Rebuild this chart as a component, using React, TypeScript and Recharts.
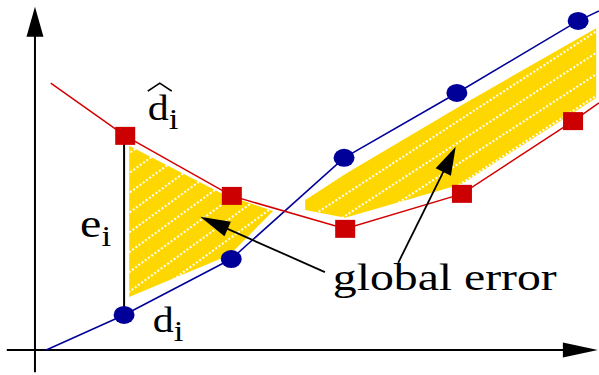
import { ComposedChart, Line, Area, XAxis, YAxis, ReferenceLine, ReferenceDot } from 'recharts'

// estimated curve d_i (blue) and its approximation d^_i (red), in plot units
const blueX = [0.2, 1.58, 3.48, 5.48, 7.48, 9.63, 10.0]
const blueY = [0, 1.02, 2.65, 5.6, 7.49, 9.59, 9.88]
const redX = [0.28, 1.6, 3.49, 5.5, 7.57, 9.54, 10.0]
const redY = [7.78, 6.24, 4.49, 3.53, 4.55, 6.67, 7.2]

// hatched "global error" bands: x, lower edge, upper edge
const leftX = [1.67, 3.32, 3.49, 4.22]
const leftLow = [1.54, 2.68, 2.83, 4.05]
const leftHigh = [5.95, 4.55, 4.46, 4.05]
const rightX = [4.79, 5.5, 7.57, 9.95]
const rightLow = [4.08, 3.85, 4.84, 7.34]
const rightHigh = [4.37, 5.13, 7.14, 9.38]

const blueData = blueX.map((x, i) => ({ x, y: blueY[i] }))
const redData = redX.map((x, i) => ({ x, y: redY[i] }))
const leftBand = leftX.map((x, i) => ({ x, range: [leftLow[i], leftHigh[i]] }))
const rightBand = rightX.map((x, i) => ({ x, range: [rightLow[i], rightHigh[i]] }))
const errData = [{ x: blueX[1], y: blueY[1] }, { x: blueX[1], y: redY[1] }]

const BLUE = '#000099'
const RED = '#d40000'
const SERIF = 'Liberation Serif, Times New Roman, serif'

const arrow = (len: number, half: number, width: number) => (p: any) => {
  const { x1, y1, x2, y2 } = p
  const dx = x2 - x1
  const dy = y2 - y1
  const d = Math.hypot(dx, dy) || 1
  const ux = dx / d
  const uy = dy / d
  const bx = x2 - ux * len
  const by = y2 - uy * len
  const pts = `${x2},${y2} ${bx - uy * half},${by + ux * half} ${bx + uy * half},${by - ux * half}`
  return (
    <g>
      <line x1={x1} y1={y1} x2={bx + ux * 2} y2={by + uy * 2} stroke="#000" strokeWidth={width} />
      <polygon points={pts} fill="#000" />
    </g>
  )
}

const sub = (main: string, idx: string, size: number, hat = false) => (p: any) => (
  <g transform={`translate(${p.cx},${p.cy}) scale(1.2,1)`}>
    {hat && <path d="M0,-29 L10,-37 L20,-29" fill="none" stroke="#000" strokeWidth={1.4} />}
    <text x={0} y={0} fontFamily={SERIF} fontSize={size} fill="#000">
      {main}
      <tspan dy={9} fontSize={29}>{idx}</tspan>
    </text>
  </g>
)

const globalLabel = (p: any) => (
  <text x={p.cx} y={p.cy} fontFamily={SERIF} fontSize={37} fill="#000" textLength={224} lengthAdjust="spacingAndGlyphs">
    global error
  </text>
)

const square = (p: any) =>
  p.index > 0 && p.index < redData.length - 1 ? (
    <rect key={`s${p.index}`} x={p.cx - 10} y={p.cy - 9} width={20} height={18} fill="#cc0000" />
  ) : (
    <g key={`s${p.index}`} />
  )

const circle = (p: any) =>
  p.index > 0 && p.index < blueData.length - 1 ? (
    <ellipse key={`c${p.index}`} cx={p.cx} cy={p.cy} rx={10.5} ry={9} fill={BLUE} />
  ) : (
    <g key={`c${p.index}`} />
  )

export default function App() {
  return (
    <div style={{ position: 'absolute', left: 0, top: 0, background: '#fff' }}>
      <ComposedChart width={599} height={375} margin={{ top: 0, right: 0, bottom: 0, left: 0 }}>
        <defs>
          <pattern id="hatchA" patternUnits="userSpaceOnUse" width={8} height={16} patternTransform="rotate(-36)">
            <rect width={8} height={16} fill="#ffd700" />
            <line x1={0} y1={8} x2={8} y2={8} stroke="#fff" strokeWidth={2} strokeDasharray="2 2" />
          </pattern>
          <pattern id="hatchB" patternUnits="userSpaceOnUse" width={8} height={18} patternTransform="rotate(-33)">
            <rect width={8} height={18} fill="#ffd700" />
            <line x1={0} y1={9} x2={8} y2={9} stroke="#fff" strokeWidth={2} strokeDasharray="2 2" />
          </pattern>
        </defs>
        <XAxis type="number" dataKey="x" domain={[-0.62, 10]} allowDataOverflow hide />
        <YAxis type="number" domain={[-0.73, 10.2]} allowDataOverflow hide />

        <Area data={leftBand} dataKey="range" type="linear" stroke="none" fill="url(#hatchA)" fillOpacity={1} isAnimationActive={false} />
        <Area data={rightBand} dataKey="range" type="linear" stroke="none" fill="url(#hatchB)" fillOpacity={1} isAnimationActive={false} />

        <ReferenceLine segment={[{ x: 0, y: -0.65 }, { x: 0, y: 10.0 }]} shape={arrow(30, 8.5, 2)} />
        <ReferenceLine segment={[{ x: -0.5, y: 0 }, { x: 9.98, y: 0 }]} shape={arrow(35, 7.5, 2)} />

        <Line data={errData} dataKey="y" type="linear" stroke="#000" strokeWidth={2} dot={false} isAnimationActive={false} />
        <Line data={blueData} dataKey="y" type="linear" stroke={BLUE} strokeWidth={1.5} dot={circle} activeDot={false} isAnimationActive={false} />
        <Line data={redData} dataKey="y" type="linear" stroke={RED} strokeWidth={1.5} dot={square} activeDot={false} isAnimationActive={false} />

        <ReferenceLine segment={[{ x: 5.14, y: 2.27 }, { x: 2.93, y: 3.88 }]} shape={arrow(30, 8, 1.8)} />
        <ReferenceLine segment={[{ x: 6.44, y: 2.54 }, { x: 7.46, y: 5.92 }]} shape={arrow(28, 8.5, 1.8)} />

        <ReferenceDot x={2.0} y={6.7} r={0} shape={sub('d', 'i', 35, true)} />
        <ReferenceDot x={0.8} y={3.29} r={0} shape={sub('e', 'i', 40)} />
        <ReferenceDot x={2.09} y={0.52} r={0} shape={sub('d', 'i', 35)} />
        <ReferenceDot x={5.28} y={1.75} r={0} shape={globalLabel} />
      </ComposedChart>
    </div>
  )
}
